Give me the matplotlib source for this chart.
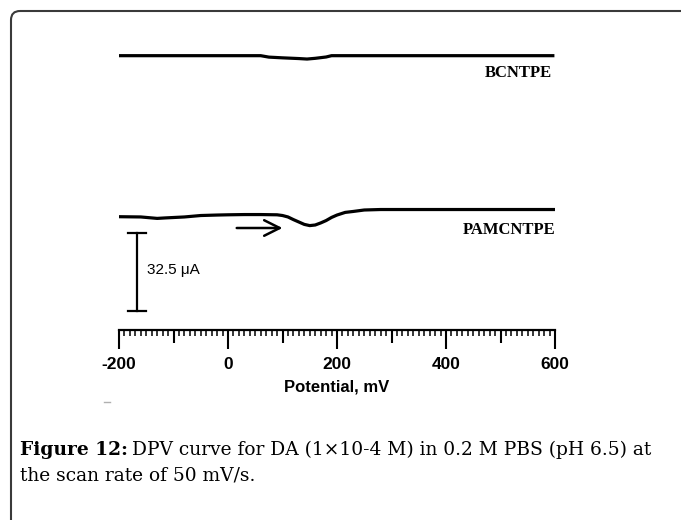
import matplotlib.pyplot as plt
from matplotlib.patches import FancyBboxPatch
import numpy as np

# potential (mV) and current (uA, with vertical offsets as drawn)
pam_mv = [-198, -160, -130, -115, -80, -50, -20, 0, 30, 60, 90, 100, 110, 120, 130,
          140, 150, 160, 170, 180, 190, 200, 215, 230, 250, 280, 350, 450, 600]
pam_ua = [47.2, 47.1, 46.5, 46.7, 47.1, 47.7, 47.9, 48.0, 48.1, 48.1, 48.0, 47.7, 47.1, 46.0, 45.0,
          44.0, 43.5, 43.75, 44.6, 45.6, 46.9, 47.9, 49.0, 49.4, 50.0, 50.2, 50.2, 50.2, 50.2]

bcn_mv = [-198, 60, 75, 100, 130, 145, 160, 180, 190, 596]
bcn_ua = [114.3, 114.3, 113.7, 113.4, 113.1, 112.9, 113.2, 113.75, 114.3, 114.3]

major_ticks = [-200, 0, 200, 400, 600]
major_labels = ['-200', '0', '200', '400', '600']
mid_ticks = [-100, 100, 300, 500]
scale_ua = 32.5

W, H = 681, 520
fig = plt.figure(figsize=(W / 100, H / 100), dpi=100)

# page layer in pixel coordinates: border + caption
page = fig.add_axes([0, 0, 1, 1])
page.set_xlim(0, W)
page.set_ylim(H, 0)
page.axis('off')
page.add_patch(FancyBboxPatch((11, 11), 700, 540, boxstyle='round,pad=0,rounding_size=9',
                              fill=False, edgecolor='#3a3a3a', linewidth=1.5, clip_on=False))
page.plot([104, 110], [402, 402], color='#b0b0b0', linewidth=1)

cap_font = 'DejaVu Serif'
t1 = page.text(20, 450, 'Figure 12:', fontsize=13.4, fontweight='bold', family=cap_font,
               va='center', ha='left')
fig.canvas.draw()
bb = t1.get_window_extent()
x_after = bb.x1 + 4
page.text(x_after, 450, 'DPV curve for DA (1\u00d710-4 M) in 0.2 M PBS (pH 6.5) at',
          fontsize=13.4, family=cap_font, va='center', ha='left')
page.text(20, 475, 'the scan rate of 50 mV/s.', fontsize=13.4, family=cap_font,
          va='center', ha='left')

# chart axes
x0, x1 = 119, 555
ybot, ytop = 330, 40
ax = fig.add_axes([x0 / W, 1 - ybot / H, (x1 - x0) / W, (ybot - ytop) / H])
ax.set_xlim(-200, 600)
ax.set_ylim(0, (ybot - ytop) / 2.4)
ax.patch.set_alpha(0)
for s in ['top', 'right', 'left']:
    ax.spines[s].set_visible(False)
ax.spines['bottom'].set_linewidth(1.6)
ax.set_yticks([])

ax.plot(pam_mv, pam_ua, color='black', linewidth=2.3, solid_joinstyle='round')
ax.plot(bcn_mv, bcn_ua, color='black', linewidth=2.3, solid_joinstyle='round')

ax.set_xticks(major_ticks)
ax.set_xticklabels(major_labels, fontsize=12.5, fontweight='bold', family='Liberation Sans')
ax.set_xticks(np.arange(-200, 601, 10), minor=True)
ax.tick_params(axis='x', which='major', length=13.5, width=1.5, pad=6)
ax.tick_params(axis='x', which='minor', length=4.5, width=1.1)
sec = ax.secondary_xaxis('bottom')
sec.set_xticks(mid_ticks)
sec.set_xticklabels([])
sec.tick_params(axis='x', which='major', length=9.5, width=1.5)
sec.spines['bottom'].set_visible(False)
ax.set_xlabel('Potential, mV', fontsize=12, fontweight='bold', family='Liberation Sans',
              labelpad=5)

# curve labels
ax.text(594, 107, 'BCNTPE', fontsize=12, fontweight='bold', family='Liberation Serif',
        ha='right', va='center')
ax.text(600, 41.5, 'PAMCNTPE', fontsize=12, fontweight='bold', family='Liberation Serif',
        ha='right', va='center')

# direction arrow
ax.annotate('', xy=(100, 42.5), xytext=(16, 42.5),
            arrowprops=dict(arrowstyle='->', color='black', linewidth=1.8,
                            mutation_scale=28, shrinkA=0, shrinkB=0))

# scale bar
sb_x, sb_lo = -167, 7.9
ax.plot([sb_x, sb_x], [sb_lo, sb_lo + scale_ua], color='black', linewidth=1.6)
ax.plot([sb_x - 16, sb_x + 16], [sb_lo, sb_lo], color='black', linewidth=1.6)
ax.plot([sb_x - 16, sb_x + 16], [sb_lo + scale_ua, sb_lo + scale_ua], color='black', linewidth=1.6)
ax.text(sb_x + 18, sb_lo + scale_ua / 2 + 0.8, '32.5 \u03bcA', fontsize=11, family='Liberation Sans',
        ha='left', va='center')

fig.savefig('out.png', dpi=100)
